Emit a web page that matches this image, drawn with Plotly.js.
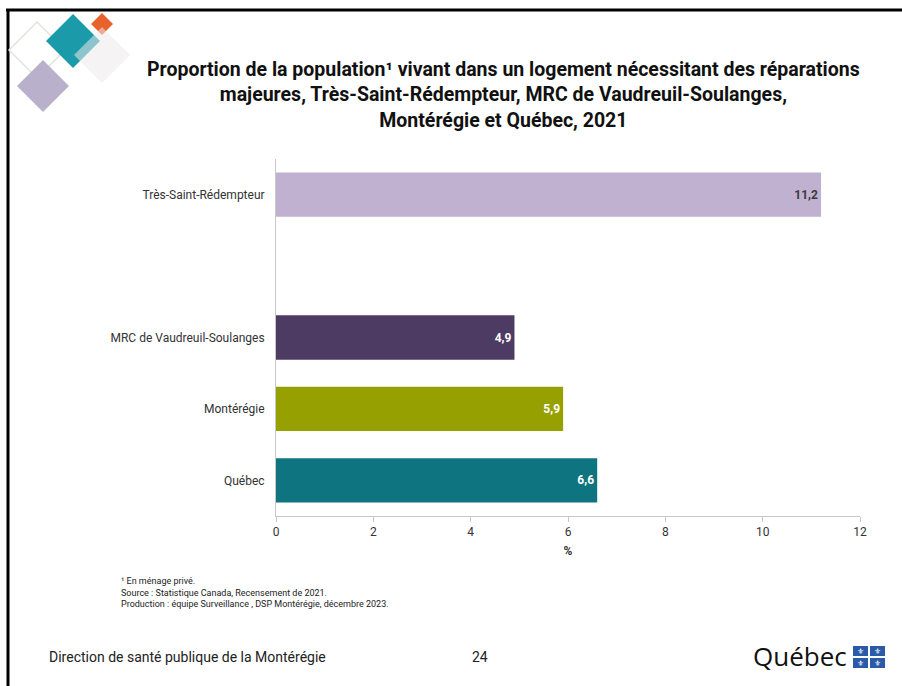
<!DOCTYPE html>
<html>
<head>
<meta charset="utf-8">
<script src="https://cdn.plot.ly/plotly-3.0.1.min.js"></script>
<style>
html,body{margin:0;padding:0;background:#fff;}
#chart{width:902px;height:686px;}
</style>
</head>
<body>
<div id="chart"></div>
<script>
// Data (bottom-to-top order)
const categories = ["Québec", "Montérégie", "MRC de Vaudreuil-Soulanges", " ", "Très-Saint-Rédempteur"];
const values = [6.6, 5.9, 4.9, null, 11.2];
const barColors = ["#0e7480", "#96a000", "#4e3b63", "#ffffff", "#c1b1d1"];
const labelColors = ["#ffffff", "#ffffff", "#ffffff", "#ffffff", "#3a3a3a"];
const xTicks = [0, 2, 4, 6, 8, 10, 12];

const W = 902, H = 686;
const L = 276, R = 860, T = 159, B = 516;
const font = "Roboto, Liberation Sans, sans-serif";

function px(x) { return (x - L) / (R - L); }
function py(y) { return (B - y) / (B - T); }
function diamond(cx, cy, r, fill, opacity, line) {
  const p = `M${px(cx)},${py(cy - r)} L${px(cx + r)},${py(cy)} L${px(cx)},${py(cy + r)} L${px(cx - r)},${py(cy)} Z`;
  return {type: "path", xref: "paper", yref: "paper", path: p,
    fillcolor: fill, opacity: opacity,
    line: line || {width: 0}, layer: "above"};
}

const shapes = [
  // frame
  {type: "line", xref: "paper", yref: "paper", x0: px(6), x1: px(902), y0: py(10), y1: py(10), line: {color: "#000", width: 3}},
  {type: "line", xref: "paper", yref: "paper", x0: px(8), x1: px(8), y0: py(9), y1: py(686), line: {color: "#000", width: 3}},
  // decorative diamonds
  diamond(37, 50, 28, "rgba(0,0,0,0)", 1, {color: "#dfe5dc", width: 1.5}),
  diamond(43, 86, 26, "#b9b1cc", 1),
  diamond(73, 41, 27, "#1b9aa9", 1),
  diamond(102, 24, 11, "#e7632b", 1),
  diamond(102, 55, 28, "#eceaea", 0.55),
  // Québec flag squares
  {type: "rect", xref: "paper", yref: "paper", x0: px(853), x1: px(868), y0: py(646), y1: py(656), fillcolor: "#2b5aa8", line: {width: 0}},
  {type: "rect", xref: "paper", yref: "paper", x0: px(870), x1: px(885), y0: py(646), y1: py(656), fillcolor: "#2b5aa8", line: {width: 0}},
  {type: "rect", xref: "paper", yref: "paper", x0: px(853), x1: px(868), y0: py(658), y1: py(668), fillcolor: "#2b5aa8", line: {width: 0}},
  {type: "rect", xref: "paper", yref: "paper", x0: px(870), x1: px(885), y0: py(658), y1: py(668), fillcolor: "#2b5aa8", line: {width: 0}}
];

const annotations = [
  {xref: "paper", yref: "paper", x: px(503), y: py(95), xanchor: "center", yanchor: "middle",
   text: "<b>Proportion de la population¹ vivant dans un logement nécessitant des réparations<br>majeures, Très-Saint-Rédempteur, MRC de Vaudreuil-Soulanges,<br>Montérégie et Québec, 2021</b>",
   showarrow: false, align: "center", font: {family: font, size: 19.5, color: "#111"}},
  {xref: "paper", yref: "paper", x: px(119), y: py(592), xanchor: "left", yanchor: "middle",
   text: "¹ En ménage privé.<br>Source : Statistique Canada, Recensement de 2021.<br>Production : équipe Surveillance , DSP Montérégie, décembre 2023.",
   showarrow: false, align: "left", font: {family: font, size: 9, color: "#222"}},
  {xref: "paper", yref: "paper", x: px(47), y: py(657), xanchor: "left", yanchor: "middle",
   text: "Direction de santé publique de la Montérégie", showarrow: false,
   font: {family: font, size: 14, color: "#222"}},
  {xref: "paper", yref: "paper", x: px(480), y: py(657), xanchor: "center", yanchor: "middle",
   text: "24", showarrow: false, font: {family: font, size: 14, color: "#222"}},
  {xref: "paper", yref: "paper", x: px(849), y: py(656), xanchor: "right", yanchor: "middle",
   text: "Québec", showarrow: false, font: {family: "Open Sans, sans-serif", size: 26, color: "#111"}}
];
// fleur-de-lis marks
[[860.5, 651], [877.5, 651], [860.5, 663], [877.5, 663]].forEach(function (c) {
  annotations.push({xref: "paper", yref: "paper", x: px(c[0]), y: py(c[1]), xanchor: "center", yanchor: "middle",
    text: "⚜", showarrow: false, font: {family: "DejaVu Sans", size: 8, color: "#fff"}});
});

const trace = {
  type: "bar", orientation: "h",
  y: categories, x: values,
  marker: {color: barColors, line: {width: 0}},
  texttemplate: "<b>%{x:.1f}</b>",
  textposition: "inside", insidetextanchor: "end",
  insidetextfont: {family: font, size: 12, color: labelColors},
  hoverinfo: "none", cliponaxis: false
};

const layout = {
  width: W, height: H,
  margin: {l: L, r: W - R, t: T, b: H - B, pad: 0},
  paper_bgcolor: "#fff", plot_bgcolor: "#fff",
  separators: ", ",
  bargap: 0.38,
  showlegend: false,
  font: {family: font, color: "#222"},
  xaxis: {
    range: [0, 12], tickvals: xTicks, ticktext: xTicks.map(String),
    showgrid: false, zeroline: false,
    showline: true, linecolor: "#c8c8c8", linewidth: 1,
    ticks: "outside", ticklen: 5, tickcolor: "#c8c8c8",
    tickfont: {family: font, size: 12, color: "#333"},
    title: {text: "<b>%</b>", font: {family: font, size: 12, color: "#333"}, standoff: 8}
  },
  yaxis: {
    type: "category", categoryorder: "array", categoryarray: categories,
    range: [-0.5, 4.5],
    showgrid: false, zeroline: false,
    showline: true, linecolor: "#c8c8c8", linewidth: 1,
    ticks: "", ticklabelstandoff: 8,
    tickfont: {family: font, size: 12, color: "#333"}
  },
  shapes: shapes,
  annotations: annotations
};

Plotly.newPlot("chart", [trace], layout, {staticPlot: true, displayModeBar: false});
</script>
</body>
</html>
